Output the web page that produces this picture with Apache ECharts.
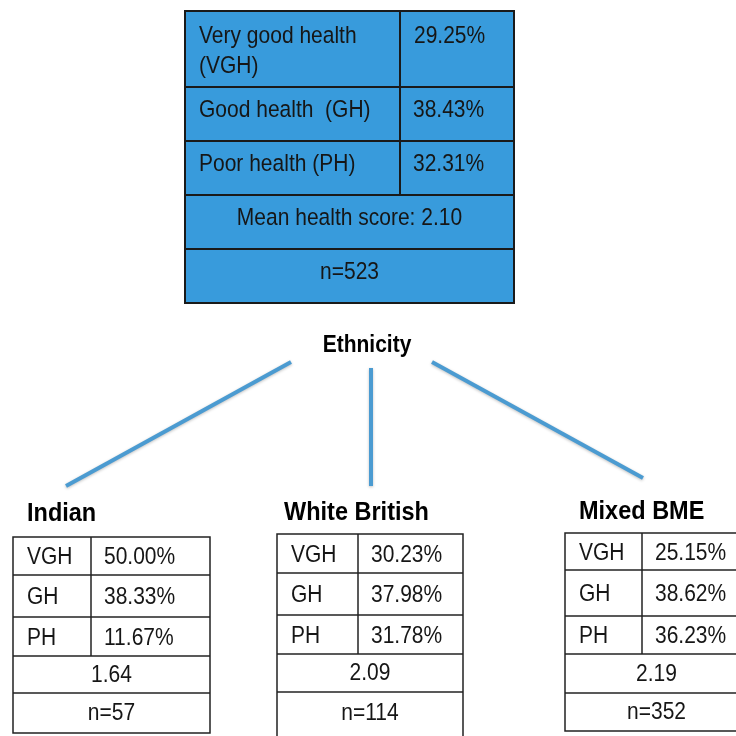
<!DOCTYPE html>
<html>
<head>
<meta charset="utf-8">
<script src="https://cdn.jsdelivr.net/npm/echarts@6/dist/echarts.min.js"></script>
<style>html,body{margin:0;padding:0;background:#fff}#c{width:736px;height:736px}</style>
</head>
<body>
<div id="c"></div>
<script>
// ---- data ----
const overallLabels = ['Very good health\n(VGH)', 'Good health  (GH)', 'Poor health (PH)'];
const overallValues = [29.25, 38.43, 32.31];
const overallMean = 2.10;
const overallN = 523;
const splitLabel = 'Ethnicity';
const groupNames = ['Indian', 'White British', 'Mixed BME'];
const shortLabels = ['VGH', 'GH', 'PH'];
const groupVGH = [50.00, 30.23, 25.15];
const groupGH = [38.33, 37.98, 38.62];
const groupPH = [11.67, 31.78, 36.23];
const groupMean = [1.64, 2.09, 2.19];
const groupN = [57, 114, 352];

// ---- layout ----
const FONT = '"Liberation Sans", Arial, sans-serif';
const TEXT = '#161616';
const SY = 1.12;
const topBox = { left: 185, right: 514, div: 400, rows: [11, 87, 141, 195, 249, 303] };
const groupBoxes = [
  { left: 13, right: 210, div: 91, rows: [537, 575, 617, 656, 693, 733], tx: 27, ty: 514 },
  { left: 277, right: 463, div: 358, rows: [534, 573, 615, 654, 692, 742], tx: 284, ty: 513 },
  { left: 565, right: 748, div: 642, rows: [533, 570, 616, 654, 693, 731], tx: 579, ty: 512 }
];
const connectors = [[291, 362, 66, 486], [371, 368, 371, 486], [432, 362, 643, 478]];

const els = [];
function line(x1, y1, x2, y2, stroke, w) {
  els.push({ type: 'line', shape: { x1, y1, x2, y2 }, style: { stroke, lineWidth: w } });
}
function text(t, x, y, opt) {
  els.push({ type: 'text', x, y, scaleY: SY, z: 10,
    style: Object.assign({ text: t, font: '21px ' + FONT, fill: TEXT, align: 'left', verticalAlign: 'middle' }, opt || {}) });
}
const pct = v => v.toFixed(2) + '%';

function table(b, labels, values, mean, n, fill, stroke, w, topMulti) {
  const r = b.rows;
  els.push({ type: 'rect', shape: { x: b.left, y: r[0], width: b.right - b.left, height: r[5] - r[0] },
    style: { fill: fill, stroke: stroke, lineWidth: w } });
  for (let i = 1; i < 5; i++) line(b.left, r[i], b.right, r[i], stroke, w);
  line(b.div, r[0], b.div, r[3], stroke, w);
  const cx = (b.left + b.right) / 2;
  for (let i = 0; i < 3; i++) {
    const cy = (r[i] + r[i + 1]) / 2;
    if (topMulti && i === 0) {
      text(labels[i], b.left + 14, r[0] + 10, { verticalAlign: 'top', lineHeight: 27 });
      text(pct(values[i]), b.div + 14, r[0] + 10, { verticalAlign: 'top', lineHeight: 27 });
    } else {
      const dy = topMulti ? -3 : 2;
      text(labels[i], b.left + 14, cy + dy);
      text(pct(values[i]), b.div + 13, cy + dy);
    }
  }
  const dy = topMulti ? -3 : 1;
  text(mean, cx, (r[3] + r[4]) / 2 + dy, { align: 'center' });
  text(n, cx, (r[4] + Math.min(r[5], 733)) / 2 + dy, { align: 'center' });
}

table(topBox, overallLabels, overallValues, 'Mean health score: ' + overallMean.toFixed(2), 'n=' + overallN,
  '#389bdc', '#1a1a1a', 2, true);

text(splitLabel, 367, 346, { align: 'center', font: 'bold 21px ' + FONT, fill: '#000' });

connectors.forEach(c => {
  els.push({ type: 'line', shape: { x1: c[0], y1: c[1], x2: c[2], y2: c[3] },
    style: { stroke: '#4b9bd1', lineWidth: 4, shadowBlur: 3, shadowColor: 'rgba(0,0,0,0.25)', shadowOffsetY: 1 } });
});

groupNames.forEach((g, k) => {
  const b = groupBoxes[k];
  text(g, b.tx, b.ty, { font: 'bold 23.5px ' + FONT, fill: '#000' });
  table(b, shortLabels, [groupVGH[k], groupGH[k], groupPH[k]], groupMean[k].toFixed(2), 'n=' + groupN[k],
    '#ffffff', '#222', 1.5, false);
});

const chart = echarts.init(document.getElementById('c'), null, { renderer: 'canvas' });
chart.setOption({ backgroundColor: '#fff', animation: false, graphic: { elements: els } });
</script>
</body>
</html>
